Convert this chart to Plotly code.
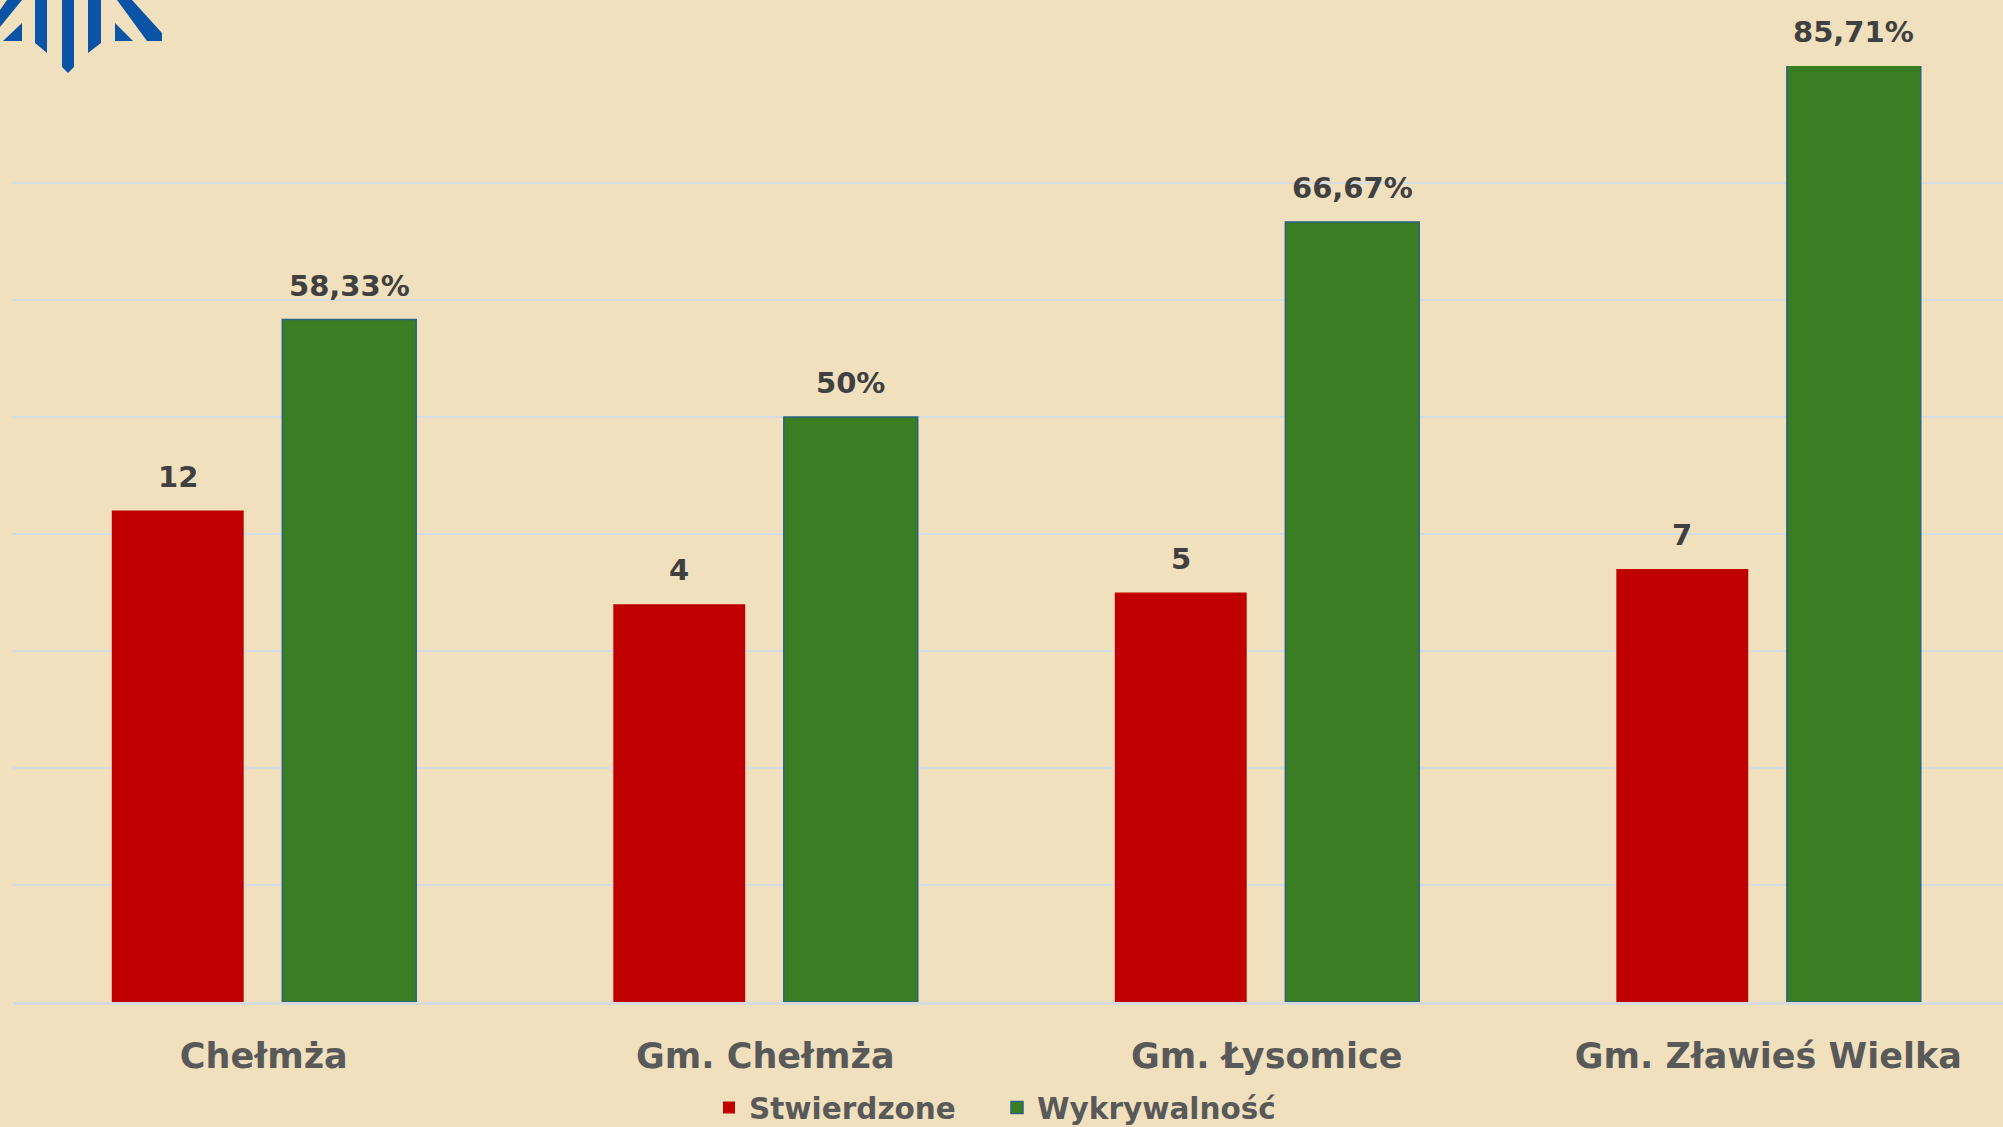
import plotly.graph_objects as go

# ---- data ----
categories = ["Chełmża", "Gm. Chełmża", "Gm. Łysomice", "Gm. Zławieś Wielka"]
stwierdzone = [12, 4, 5, 7]
wykrywalnosc = [58.33, 50, 66.67, 85.71]
series_names = ["Stwierdzone", "Wykrywalność"]

# ---- layout constants ----
W, H = 2003, 1127
ML, MR, MT, MB = 13, 0, 66, 125
PW, PH = W - ML - MR, H - MT - MB
Y1_RANGE = [0, 80]
Y2_RANGE = [-30, 50]
RED, GREEN, GREEN_EDGE = "#C00000", "#3A7D22", "#2A6384"
BG = "#F0E0BE"
FONT = "DejaVu Sans"
RED_OFF, RED_W = -0.303, 0.263
GRN_OFF, GRN_W = 0.037, 0.267

fig = go.Figure()
fig.add_trace(go.Bar(
    name=series_names[0], x=categories,
    y=[v - Y2_RANGE[0] for v in stwierdzone], base=Y2_RANGE[0],
    customdata=stwierdzone, hovertemplate="%{x}: %{customdata}<extra></extra>",
    yaxis="y2", offset=RED_OFF, width=RED_W,
    marker=dict(color=RED, line=dict(width=0)),
))
fig.add_trace(go.Bar(
    name=series_names[1], x=categories, y=wykrywalnosc, yaxis="y",
    offset=GRN_OFF, width=GRN_W,
    marker=dict(color=GREEN, line=dict(color=GREEN_EDGE, width=1.5)),
))

def pl(v):
    s = f"{v:.2f}".rstrip("0").rstrip(".")
    return s.replace(".", ",") + "%"

annotations = []
for i, (s, w) in enumerate(zip(stwierdzone, wykrywalnosc)):
    annotations.append(dict(
        x=i + RED_OFF + RED_W / 2, y=s, xref="x", yref="y2", text=str(s),
        showarrow=False, yanchor="bottom", yshift=15,
        font=dict(family=FONT, size=29, color="#404040", weight="bold")))
    annotations.append(dict(
        x=i + GRN_OFF + GRN_W / 2, y=min(w, Y1_RANGE[1]), xref="x", yref="y",
        text=pl(w), showarrow=False, yanchor="bottom", yshift=15,
        font=dict(family=FONT, size=29, color="#404040", weight="bold")))

# logo (decorative, pixel polygons -> paper coords)
logo_polys = [
    [(7, 0), (22, 0), (0, 27), (0, 10)],
    [(3, 41), (22, 23), (22, 41)],
    [(35, 0), (47, 0), (47, 53), (35, 43)],
    [(62, 0), (74, 0), (74, 67), (68, 73), (62, 67)],
    [(88, 0), (101, 0), (101, 43), (88, 53)],
    [(115, 23), (115, 41), (133, 41)],
    [(117, 0), (132, 0), (162, 33), (162, 41), (147, 41)],
]
shapes = []
for poly in logo_polys:
    pts = [((px - ML) / PW, (H - MB - py) / PH) for px, py in poly]
    path = "M " + " L ".join(f"{x:.5f},{y:.5f}" for x, y in pts) + " Z"
    shapes.append(dict(type="path", xref="paper", yref="paper", path=path,
                       fillcolor="#0B54A5", line=dict(width=0), layer="above"))

fig.update_layout(
    width=W, height=H,
    margin=dict(l=ML, r=MR, t=MT, b=MB, pad=0, autoexpand=False),
    paper_bgcolor=BG, plot_bgcolor="rgba(0,0,0,0)",
    barmode="overlay",
    showlegend=True,
    legend=dict(orientation="h", x=(709 - ML) / PW, xanchor="left", y=-0.113, yanchor="middle",
                entrywidth=243, entrywidthmode="pixels",
                font=dict(family=FONT, size=29.5, color="#595959", weight="bold"),
                bgcolor="rgba(0,0,0,0)", traceorder="normal"),
    xaxis=dict(type="category", range=[-0.5, 3.468], showgrid=False, zeroline=False,
               showline=True, linecolor="#D6D9DE", linewidth=2.5, automargin=False,
               ticks="", ticklabelstandoff=21,
               tickfont=dict(family=FONT, size=35, color="#595959", weight="bold")),
    yaxis=dict(range=Y1_RANGE, dtick=10, showgrid=True, gridcolor="#D6DCE4", gridwidth=2,
               zeroline=False, showticklabels=False, showline=False, fixedrange=True,
               automargin=False),
    yaxis2=dict(range=Y2_RANGE, overlaying="y", side="right", showgrid=False,
                zeroline=False, showticklabels=False, showline=False, automargin=False),
    annotations=annotations, shapes=shapes,
    hovermode="closest",
)

fig.write_html("out.html", config={"displayModeBar": False},
               post_script="document.body.style.margin='0';document.body.style.overflow='hidden';")
